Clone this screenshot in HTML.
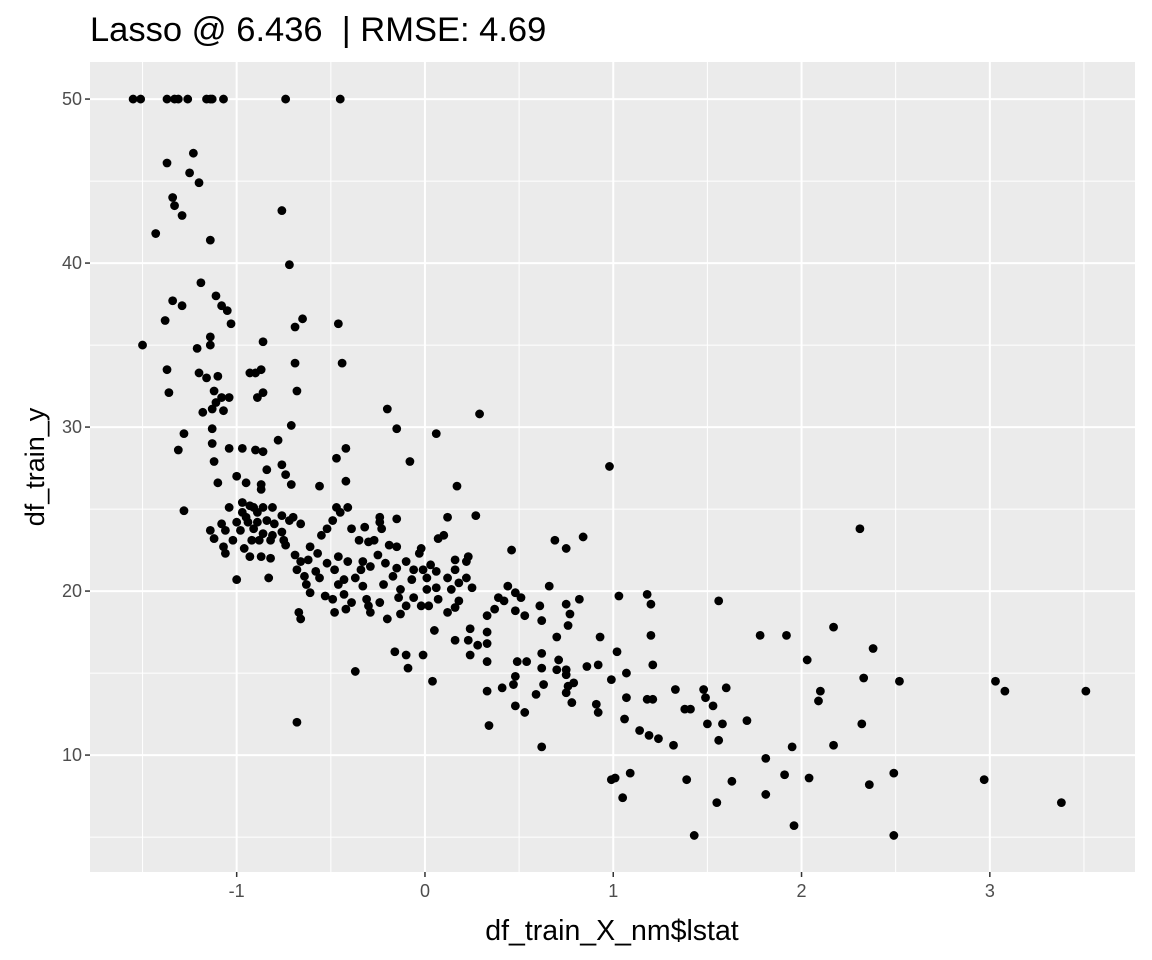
<!DOCTYPE html>
<html><head><meta charset="utf-8"><style>
html,body{margin:0;padding:0;background:#fff;}
svg{display:block;font-family:"Liberation Sans",Arial,sans-serif;}
</style></head><body>
<svg id="chart" width="1152" height="960" viewBox="0 0 1152 960" xmlns="http://www.w3.org/2000/svg">
<rect x="0" y="0" width="1152" height="960" fill="#fff"/>
<text x="90" y="41" font-size="34.5" fill="#000" style="white-space:pre">Lasso @ 6.436&#160; | RMSE: 4.69</text>
<rect x="90" y="62" width="1045" height="810" fill="#ebebeb"/>
<g id="grid"></g>
<g id="points"></g>
<g id="axes"></g>
<text x="612" y="940" font-size="28.5" text-anchor="middle" fill="#000">df_train_X_nm$lstat</text>
<text x="0" y="0" font-size="27" text-anchor="middle" fill="#000" transform="translate(44,467) rotate(-90)">df_train_y</text>
</svg>
<script>
const xTicks=[-1,0,1,2,3];
const yTicks=[10,20,30,40,50];
const xMinor=[-1.5,-0.5,0.5,1.5,2.5,3.5];
const yMinor=[5,15,25,35,45];
const xVals=[-1.55,-1.51,-1.37,-1.33,-1.31,-1.26,-1.16,-1.14,-1.13,-1.07,-0.74,-0.45,
-1.37,-1.23,-1.25,-1.20,-1.34,-1.33,-1.29,-0.76,-1.43,-1.14,-0.72,-1.19,-1.11,-1.08,-1.05,-1.34,-1.29,-1.38,-1.03,-0.65,-0.69,-0.46,
-1.50,-1.14,-1.14,-0.86,-1.21,-0.44,-1.37,-1.20,-1.16,-1.10,-0.93,-0.90,-0.87,-0.69,-1.36,-1.12,-0.86,-0.68,-1.08,-1.04,-0.89,-1.11,-1.13,-1.18,-1.07,-0.20,0.29,
-1.13,-1.28,-0.15,0.06,-0.78,-0.71,-1.13,-1.04,-0.97,-0.90,-0.86,-1.31,-0.42,-0.47,-1.12,-0.08,0.98,-0.76,-0.74,-0.84,-1.00,-1.10,-0.95,-0.87,-0.71,-0.56,0.17,-0.87,-0.42,
-0.97,-0.93,-0.91,-0.97,-0.89,-1.04,-1.28,-0.95,-0.86,-0.81,-0.76,-0.70,-0.47,-0.45,-0.41,0.27,-0.24,-0.15,
-1.08,-1.00,-0.94,-0.89,-0.84,-0.80,-0.72,-0.66,-0.49,-0.24,0.12,
-1.14,-1.06,-0.98,-0.91,-0.86,-0.81,-0.76,-0.52,-0.39,-0.32,-0.23,2.31,
-1.12,-1.02,-0.92,-0.88,-0.82,-0.75,-0.55,-0.35,-0.30,-0.27,0.07,0.10,0.69,0.84,0.75,
-1.07,-0.96,-0.74,-0.61,-0.19,-0.15,-0.02,0.46,
-1.06,-0.93,-0.87,-0.82,-0.69,-0.57,-0.46,-0.25,-0.03,0.23,
-0.66,-0.62,-0.52,-0.41,-0.33,-0.21,-0.10,0.03,0.16,0.22,
-0.68,-0.58,-0.48,-0.34,-0.29,-0.15,-0.06,-0.01,0.06,0.16,
-1.00,-0.83,-0.64,-0.56,-0.43,-0.37,-0.17,-0.07,0.01,0.12,0.22,0.18,
-0.63,-0.46,-0.33,-0.22,-0.13,0.01,0.06,0.14,0.25,0.44,0.48,0.66,
-0.61,-0.53,-0.49,-0.43,-0.39,-0.31,-0.24,-0.14,-0.06,0.07,0.18,0.39,0.42,0.51,0.61,0.82,1.03,1.18,1.56,1.20,0.75,
-0.42,-0.30,-0.10,-0.02,0.02,0.16,0.37,0.48,
-0.67,-0.66,-0.48,-0.29,-0.20,-0.13,0.12,0.33,0.53,0.62,0.77,0.76,0.93,1.20,1.78,1.92,2.17,
0.05,0.24,0.33,0.16,0.23,0.28,0.33,0.70,
-0.16,-0.10,-0.01,0.24,0.62,1.02,2.38,
0.33,0.49,0.54,0.71,0.92,1.21,2.03,
-0.09,0.62,0.70,0.75,0.86,-0.37,1.07,
0.48,0.75,0.79,0.99,0.47,0.63,0.76,2.33,2.52,3.03,0.04,
0.41,0.33,0.75,1.07,1.33,1.48,1.60,2.10,3.08,3.51,
0.59,1.49,1.18,1.21,2.09,1.53,0.91,0.78,0.48,0.53,0.92,1.38,1.41,
-0.68,1.06,1.50,1.58,1.71,2.32,0.34,1.14,1.19,1.24,1.32,1.56,0.62,1.95,2.17,1.81,
0.99,1.01,1.09,1.39,1.63,1.91,2.04,2.49,2.36,2.97,1.81,1.05,1.55,3.38,1.96,1.43,2.49];
const yVals=[50,50,50,50,50,50,50,50,50,50,50,50,
46.1,46.7,45.5,44.9,44.0,43.5,42.9,43.2,41.8,41.4,39.9,38.8,38.0,37.4,37.1,37.7,37.4,36.5,36.3,36.6,36.1,36.3,
35.0,35.5,35.0,35.2,34.8,33.9,33.5,33.3,33.0,33.1,33.3,33.3,33.5,33.9,32.1,32.2,32.1,32.2,31.8,31.8,31.8,31.5,31.1,30.9,31.0,31.1,30.8,
29.9,29.6,29.9,29.6,29.2,30.1,29.0,28.7,28.7,28.6,28.5,28.6,28.7,28.1,27.9,27.9,27.6,27.7,27.1,27.4,27.0,26.6,26.6,26.5,26.5,26.4,26.4,26.2,26.7,
25.4,25.2,25.1,24.8,24.8,25.1,24.9,24.5,25.1,25.1,24.6,24.5,25.1,24.8,25.1,24.6,24.5,24.4,
24.1,24.2,24.2,24.2,24.3,24.1,24.3,24.1,24.3,24.2,24.5,
23.7,23.7,23.7,23.8,23.5,23.4,23.6,23.8,23.8,23.9,23.8,23.8,
23.2,23.1,23.1,23.1,23.1,23.1,23.4,23.1,23.0,23.1,23.2,23.4,23.1,23.3,22.6,
22.7,22.6,22.8,22.7,22.8,22.7,22.6,22.5,
22.3,22.1,22.1,22.0,22.2,22.3,22.1,22.2,22.3,22.1,
21.8,21.9,21.7,21.8,21.8,21.7,21.8,21.6,21.9,21.8,
21.3,21.2,21.3,21.3,21.5,21.4,21.3,21.3,21.2,21.3,
20.7,20.8,20.9,20.8,20.7,20.8,20.9,20.7,20.8,20.8,20.8,20.5,
20.4,20.4,20.3,20.4,20.1,20.1,20.2,20.1,20.2,20.3,19.9,20.3,
19.9,19.7,19.5,19.8,19.3,19.5,19.3,19.6,19.6,19.5,19.4,19.6,19.4,19.6,19.1,19.5,19.7,19.8,19.4,19.2,19.2,
18.9,19.1,19.1,19.1,19.1,19.0,18.9,18.8,
18.7,18.3,18.7,18.7,18.3,18.6,18.7,18.5,18.5,18.2,18.6,17.9,17.2,17.3,17.3,17.3,17.8,
17.6,17.7,17.5,17.0,17.0,16.7,16.8,17.2,
16.3,16.1,16.1,16.1,16.2,16.3,16.5,
15.7,15.7,15.7,15.8,15.5,15.5,15.8,
15.3,15.3,15.2,15.2,15.4,15.1,15.0,
14.8,14.9,14.4,14.6,14.3,14.3,14.2,14.7,14.5,14.5,14.5,
14.1,13.9,13.8,13.5,14.0,14.0,14.1,13.9,13.9,13.9,
13.7,13.5,13.4,13.4,13.3,13.0,13.1,13.2,13.0,12.6,12.6,12.8,12.8,
12.0,12.2,11.9,11.9,12.1,11.9,11.8,11.5,11.2,11.0,10.6,10.9,10.5,10.5,10.6,9.8,
8.5,8.6,8.9,8.5,8.4,8.8,8.6,8.9,8.2,8.5,7.6,7.4,7.1,7.1,5.7,5.1,5.1];

const NS="http://www.w3.org/2000/svg";
const PL=90,PR=1135,PT=62,PB=872;
const X0=-1.779,X1=3.771,Y0=2.87,Y1=52.26;
function sx(v){return PL+(v-X0)/(X1-X0)*(PR-PL);}
function sy(v){return PB-(v-Y0)/(Y1-Y0)*(PB-PT);}
function mk(tag,attrs,parent){const e=document.createElementNS(NS,tag);for(const k in attrs)e.setAttribute(k,attrs[k]);parent.appendChild(e);return e;}
const grid=document.getElementById('grid'),pts=document.getElementById('points'),axes=document.getElementById('axes');
xMinor.forEach(v=>{const l=mk('line',{x1:sx(v),x2:sx(v),y1:PT,y2:PB,stroke:'#fff','stroke-width':1},grid);

});
yMinor.forEach(v=>{const l=mk('line',{x1:PL,x2:PR,y1:sy(v),y2:sy(v),stroke:'#fff','stroke-width':1},grid);

});
xTicks.forEach(v=>{const l=mk('line',{x1:sx(v),x2:sx(v),y1:PT,y2:PB,stroke:'#fff','stroke-width':2},grid);


const t=mk('line',{x1:sx(v),x2:sx(v),y1:PB,y2:PB+5,stroke:'#333','stroke-width':1.5},axes);


const tx=mk('text',{x:sx(v),y:PB+25,'font-size':18,'text-anchor':'middle',fill:'#4d4d4d'},axes);
tx.textContent=String(v);

});
yTicks.forEach(v=>{const l=mk('line',{x1:PL,x2:PR,y1:sy(v),y2:sy(v),stroke:'#fff','stroke-width':2},grid);


const t=mk('line',{x1:PL-5,x2:PL,y1:sy(v),y2:sy(v),stroke:'#333','stroke-width':1.5},axes);


const tx=mk('text',{x:PL-8,y:sy(v)+6,'font-size':18,'text-anchor':'end',fill:'#4d4d4d'},axes);
tx.textContent=String(v);

});
for(let i=0;i<xVals.length;i++){
const c=mk('circle',{cx:sx(xVals[i]),cy:sy(yVals[i]),r:4.4,fill:'#000'},pts);


}
</script>
</body></html>
